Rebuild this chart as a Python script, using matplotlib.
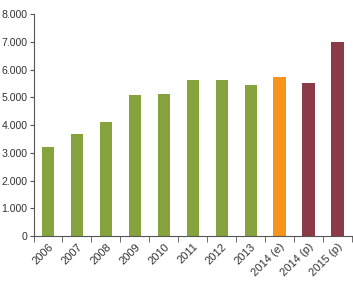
import matplotlib.pyplot as plt
from matplotlib.ticker import FuncFormatter
from matplotlib import font_manager

years = ['2006', '2007', '2008', '2009', '2010', '2011', '2012', '2013',
         '2014 (e)', '2014 (p)', '2015 (p)']
values = [3210, 3660, 4100, 5070, 5110, 5610, 5640, 5440, 5740, 5500, 7000]
colors = ['#86a33e'] * 8 + ['#f7941d', '#8b3a47', '#8b3a47']

names = {f.name for f in font_manager.fontManager.ttflist}
fam = 'Liberation Sans Narrow' if 'Liberation Sans Narrow' in names else 'Liberation Sans'
plt.rcParams['font.family'] = [fam, 'DejaVu Sans']

fig = plt.figure(figsize=(3.53, 2.82), dpi=100)
ax = fig.add_axes([0.095, 0.163, 0.902, 0.787])

x = range(len(years))
ax.bar(x, values, width=0.42, color=colors)

ax.set_xlim(-0.5, len(years) - 0.5)
ax.set_ylim(0, 8000)
ax.set_yticks(range(0, 8001, 1000))
ax.yaxis.set_major_formatter(FuncFormatter(lambda v, p: f'{int(v):,}'.replace(',', '.')))

ax.set_xticks(list(x))
ax.set_xticklabels(years, rotation=45, ha='right', rotation_mode='anchor')
ax.set_xticks([i + 0.5 for i in range(-1, len(years))], minor=True)
ax.tick_params(axis='x', which='major', length=0, labelsize=8, colors='#333333', pad=4)
ax.tick_params(axis='x', which='minor', length=4, color='#555555')
ax.tick_params(axis='y', length=3, labelsize=7.6, colors='#333333', pad=1.5)
ax.tick_params(axis='y', color='#555555')

for s in ['top', 'right']:
    ax.spines[s].set_visible(False)
for s in ['left', 'bottom']:
    ax.spines[s].set_color('#555555')
    ax.spines[s].set_linewidth(0.8)

fig.savefig('out.png', dpi=100)
